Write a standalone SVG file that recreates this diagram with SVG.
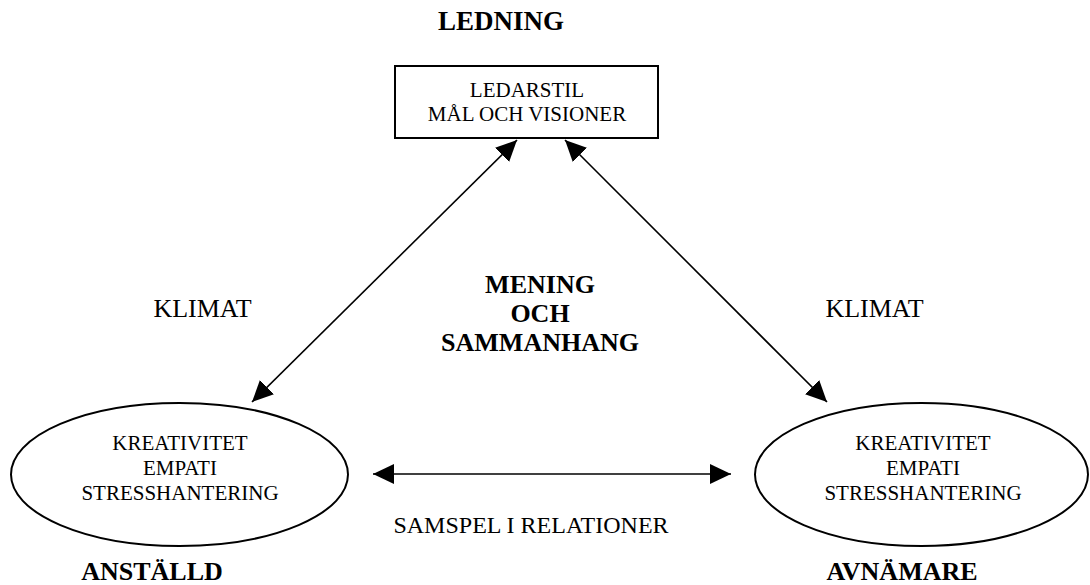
<svg xmlns="http://www.w3.org/2000/svg" width="1090" height="585" viewBox="0 0 1090 585">
<style>
text{font-family:"Liberation Serif","Times New Roman",serif;fill:#000;text-anchor:middle}
.b{font-weight:bold;font-size:26px}
.t{font-weight:bold;font-size:27px}
.s{font-size:21px}
.m{font-size:24px}
.k{font-size:26px}
.shape{fill:#fff;stroke:#000;stroke-width:2}
.conn{stroke:#000;stroke-width:1.6;fill:none;marker-start:url(#ah);marker-end:url(#ah)}
</style>
<defs>
<marker id="ah" markerUnits="userSpaceOnUse" markerWidth="22" markerHeight="22" viewBox="0 0 22 20" refX="21" refY="10" orient="auto-start-reverse">
<path d="M0,0 L21,10 L0,20 z" fill="#000"/>
</marker>
</defs>
<rect width="1090" height="585" fill="#fff"/>
<g id="connectors">
<line class="conn" x1="517" y1="140" x2="252" y2="402"/>
<line class="conn" x1="565" y1="140" x2="827" y2="402"/>
<line class="conn" x1="373" y1="474" x2="731" y2="474"/>
</g>
<g id="ledning">
<text class="t" x="501" y="30">LEDNING</text>
<rect class="shape" x="395" y="66" width="263" height="72"/>
<text class="s" x="527" y="97">LEDARSTIL</text>
<text class="s" x="527" y="121">MÅL OCH VISIONER</text>
</g>
<g id="anstalld">
<ellipse class="shape" cx="179.5" cy="474.5" rx="168.5" ry="71.5"/>
<text class="s" x="180" y="450">KREATIVITET</text>
<text class="s" x="180" y="475">EMPATI</text>
<text class="s" x="180" y="500">STRESSHANTERING</text>
<text class="b" x="152" y="580">ANSTÄLLD</text>
</g>
<g id="avnamare">
<ellipse class="shape" cx="921.5" cy="474.5" rx="166.5" ry="71.5"/>
<text class="s" x="923" y="450">KREATIVITET</text>
<text class="s" x="923" y="475">EMPATI</text>
<text class="s" x="923" y="500">STRESSHANTERING</text>
<text class="b" x="902" y="580">AVNÄMARE</text>
</g>
<g id="labels">
<text class="k" x="202.5" y="317">KLIMAT</text>
<text class="k" x="874.5" y="317">KLIMAT</text>
<text class="b" x="540" y="293">MENING</text>
<text class="b" x="540" y="322">OCH</text>
<text class="b" x="540" y="351">SAMMANHANG</text>
<text class="m" x="531" y="533">SAMSPEL I RELATIONER</text>
</g>
</svg>
